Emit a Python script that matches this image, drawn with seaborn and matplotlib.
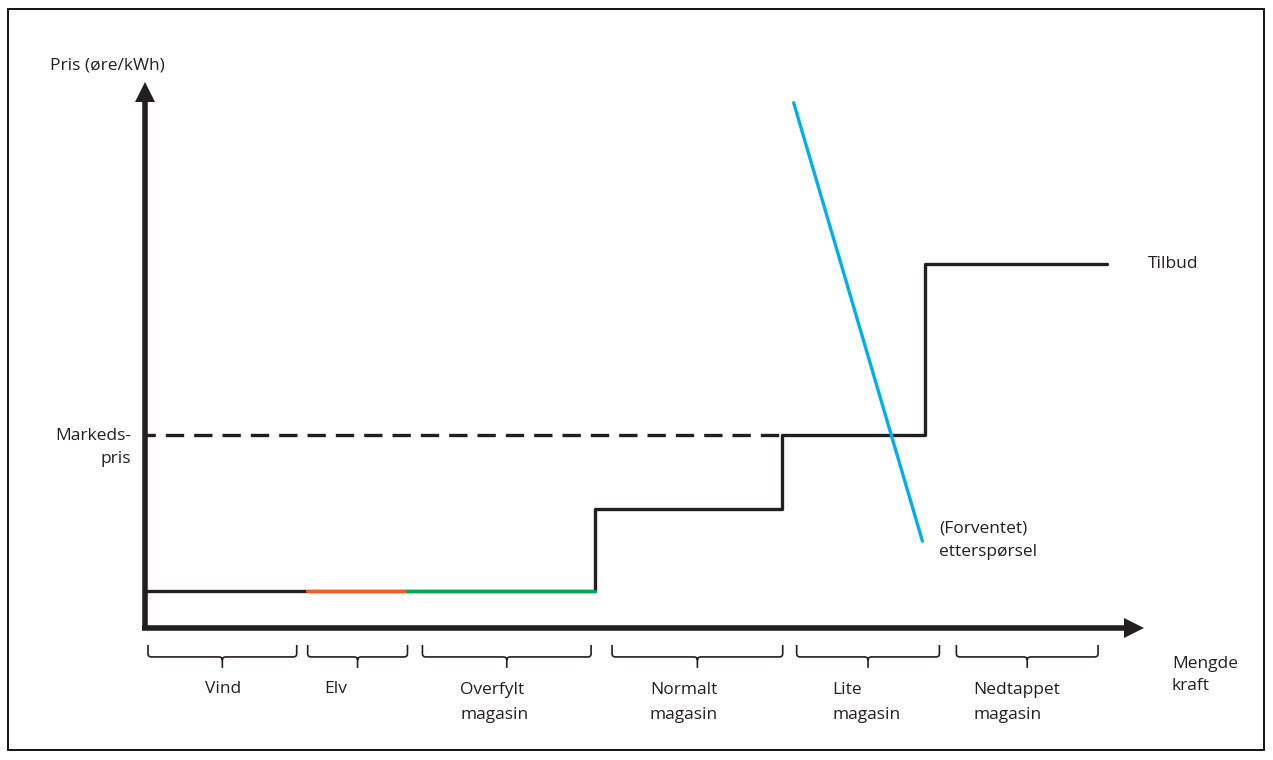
import matplotlib.pyplot as plt
import numpy as np
import pandas as pd
import seaborn as sns
from matplotlib.path import Path
from matplotlib.patches import PathPatch, Rectangle

# Supply curve (tilbud): step points, price level holds until next x
supply_x = [0, 45.1, 63.8, 78.2, 96.4]
supply_y = [6.8, 21.8, 35.3, 66.7, 66.7]

# coloured parts of the lowest step
elv_x = [16.2, 26.3]
overfylt_x = [26.3, 45.1]
low_price = 6.8

# Demand (etterspørsel) line
demand_x = [65.0, 77.9]
demand_y = [96.2, 15.9]

# Market price
market_price = 35.3
market_end = 63.8

# Brace groups under the x axis
groups = ["Vind", "Elv", "Overfylt\nmagasin", "Normalt\nmagasin", "Lite\nmagasin", "Nedtappet\nmagasin"]
group_start = [0.3, 16.3, 27.8, 46.8, 65.3, 81.3]
group_end = [15.2, 26.3, 44.7, 63.9, 79.6, 95.5]
label_x = [6.0, 18.0, 31.6, 50.6, 68.9, 83.0]

DARK = "#231f20"
CYAN = "#00aeef"
ORANGE = "#ef6127"
GREEN = "#00a651"
FS = 12.5

sns.set_theme(style="white")
plt.rcParams["font.family"] = ["Open Sans", "DejaVu Sans"]
plt.rcParams["font.size"] = FS

fig = plt.figure(figsize=(12.73, 7.6), dpi=100)
ax = fig.add_axes([145 / 1273, 132 / 760, 998 / 1273, 546 / 760])
ax.set_xlim(0, 100)
ax.set_ylim(0, 100)
ax.axis("off")

# frame round the figure
fig.patches.append(Rectangle((8 / 1273, 10 / 760), 1256 / 1273, 741 / 760,
                             transform=fig.transFigure, fill=False,
                             edgecolor="black", linewidth=1.3))

# axes: thick shafts with triangle heads
ax.plot([0, 0], [-0.4, 97.8], color=DARK, lw=4, solid_capstyle="butt", clip_on=False)
ax.plot([-0.3, 99.1], [0, 0], color=DARK, lw=4, solid_capstyle="butt", clip_on=False)
ax.plot([0], [98.1], marker="^", ms=14.5, color=DARK, mew=0, clip_on=False)
ax.plot([99.1], [0], marker=">", ms=14.5, color=DARK, mew=0, clip_on=False)

# market price dashed line
mp = pd.DataFrame({"x": [-0.8, market_end], "y": [market_price, market_price]})
sns.lineplot(data=mp, x="x", y="y", ax=ax, color=DARK, lw=2.4,
             linestyle=(0, (5.5, 3)), estimator=None)

# supply steps
sup = pd.DataFrame({"x": supply_x, "y": supply_y})
sns.lineplot(data=sup, x="x", y="y", ax=ax, color=DARK, lw=2.4,
             drawstyle="steps-post", estimator=None, sort=False)
sns.lineplot(x=elv_x, y=[low_price] * 2, ax=ax, color=ORANGE, lw=2.4, estimator=None)
sns.lineplot(x=overfylt_x, y=[low_price] * 2, ax=ax, color=GREEN, lw=2.4, estimator=None)

# demand line
sns.lineplot(x=demand_x, y=demand_y, ax=ax, color=CYAN, lw=2.4, estimator=None, sort=False)


def brace(x0, x1):
    yt, yh, ytip = -3.1, -5.3, -7.3
    rx, ry = 0.35, 0.6
    xc = (x0 + x1) / 2
    verts = [(x0, yt), (x0, yh + ry), (x0, yh), (x0 + rx, yh), (xc - rx, yh),
             (xc, yh), (xc, yh - ry), (xc, ytip),
             (xc, yh - ry), (xc, yh), (xc + rx, yh), (x1 - rx, yh),
             (x1, yh), (x1, yh + ry), (x1, yt)]
    codes = [Path.MOVETO, Path.LINETO, Path.CURVE3, Path.CURVE3, Path.LINETO,
             Path.CURVE3, Path.CURVE3, Path.LINETO,
             Path.MOVETO, Path.CURVE3, Path.CURVE3, Path.LINETO,
             Path.CURVE3, Path.CURVE3, Path.LINETO]
    ax.add_patch(PathPatch(Path(verts, codes), fill=False, edgecolor=DARK,
                           lw=1.2, clip_on=False))


for s, e, lab, lx in zip(group_start, group_end, groups, label_x):
    brace(s, e)
    ly = -13.6 if "\n" in lab else -11.2
    ax.text(lx, ly, lab, ha="left", va="center", color=DARK,
            linespacing=1.72, clip_on=False)

ax.text(-9.5, 103.1, "Pris (øre/kWh)", ha="left", va="center", color=DARK)
ax.text(-1.4, 33.1, "Markeds-\npris", ha="right", va="center", color=DARK,
        multialignment="right", linespacing=1.6)
ax.text(102.9, -8.6, "Mengde\nkraft", ha="left", va="center", color=DARK, linespacing=1.53)
ax.text(100.5, 66.7, "Tilbud", ha="left", va="center", color=DARK)
ax.text(79.6, 16.1, "(Forventet)\netterspørsel", ha="left", va="center", color=DARK,
        linespacing=1.65)

fig.savefig("out.png", dpi=100)
